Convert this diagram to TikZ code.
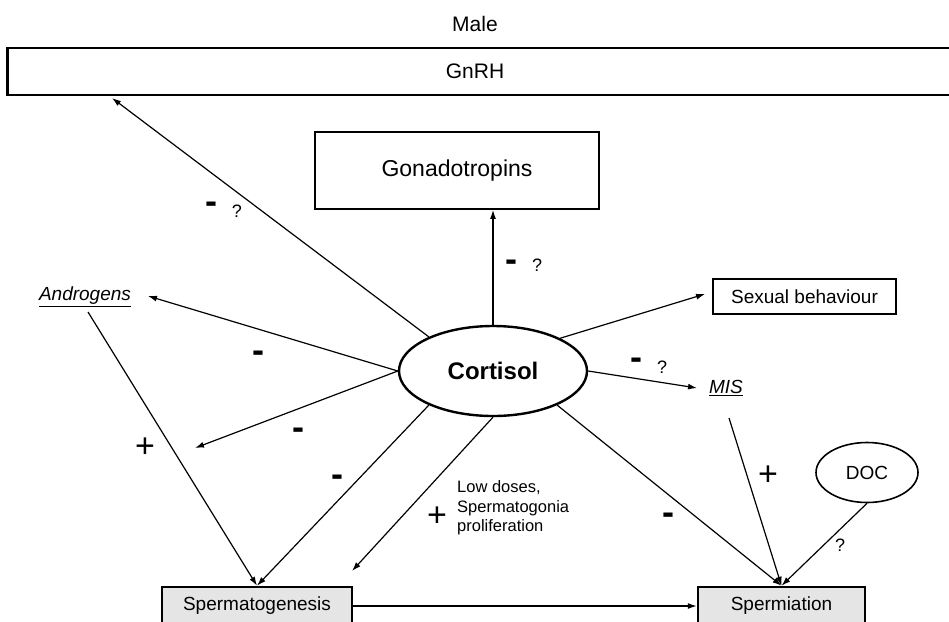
\documentclass[tikz,border=0pt]{standalone}
\usepackage{fontspec}
\setmainfont{Liberation Sans}
\usetikzlibrary{arrows.meta,shapes.geometric}
\begin{document}
\begin{tikzpicture}[x=1pt,y=-1pt,
  conn/.style={line width=1.2pt,-{Latex[length=9pt,width=6pt]}},
  sz/.style={font=\fontsize{#1}{#1}\selectfont},
  box/.style={draw,line width=2pt,inner sep=0pt},
  graybox/.style={draw,line width=2.5pt,fill=black!10,inner sep=0pt},
  minus/.style={font=\fontsize{36}{36}\selectfont\bfseries,inner sep=0pt},
  plus/.style={font=\fontsize{34}{34}\selectfont,inner sep=0pt},
  qm/.style={font=\fontsize{18}{18}\selectfont,inner sep=0pt}]
\useasboundingbox (0,0) rectangle (949,621);

% nodes
\node[sz=21] (male) at (475,24) {Male};
\node[box, line width=2.5pt, minimum width=1000, minimum height=47, anchor=west] (gnrhbox) at (6,71.5) {};
\node[sz=21] (gnrh) at (475,71.5) {GnRH};
\node[box, line width=1.8pt, minimum width=284, minimum height=77, sz=23] (gonad) at (457,170.5) {Gonadotropins};
\node[draw, ellipse, line width=2.4pt, minimum width=188, minimum height=90, inner sep=0pt,
      font=\fontsize{24}{24}\selectfont\bfseries] (cort) at (493,371) {Cortisol};
\node[sz=19, inner sep=1pt] (andro) at (85,297) {\itshape\underline{Androgens}};
\node[box, line width=1.8pt, minimum width=183, minimum height=35, sz=19] (sex) at (804.5,296.5) {Sexual behaviour};
\node[sz=19, inner sep=1pt] (mis) at (726,388) {\itshape\underline{MIS}};
\node[draw, ellipse, line width=1.6pt, minimum width=102, minimum height=60, inner sep=0pt, sz=19] (doc) at (867,472.5) {DOC};
\node[graybox, minimum width=190, minimum height=38, sz=19] (sg) at (257,606) {Spermatogenesis};
\node[graybox, minimum width=167, minimum height=38, sz=19] (sm) at (781.5,606) {Spermiation};

% free ends
\coordinate (gnrhtip) at (112,98);
\coordinate (androtip) at (148,296);
\coordinate (ptip) at (195,448);
\coordinate (ldtip) at (352,571);
\coordinate (sextip) at (705,294);
\coordinate (mistip) at (697,388);
\coordinate (misout) at (729,418);
\coordinate (andout) at (88,312);

% connectors
\draw[conn] (cort.152) -- (gnrhtip);
\draw[conn] (cort.north) -- (cort.north |- gonad.south);
\draw[conn] (cort.west) -- (androtip);
\draw[conn] (cort.west) -- (ptip);
\draw[conn] (cort.208) -- (sg.north);
\draw[conn] (andout) -- (sg.north);
\draw[conn] (cort.south) -- (ldtip);
\draw[conn] (cort.26.6) -- (sextip);
\draw[conn] (cort.east) -- (mistip);
\draw[conn] (cort.332) -- (sm.north);
\draw[conn] (misout) -- (sm.north);
\draw[conn] (doc.south) -- (sm.north);
\draw[conn] (sg.east) -- (sm.west);

% labels
\node[minus] (m1) at (211,208) {-};
\node[qm] (q1) at (237,211) {?};
\node[minus] (m2) at (511,266) {-};
\node[qm] (q2) at (537,265) {?};
\node[minus] (m3) at (258,357) {-};
\node[minus] (m4) at (298,434) {-};
\node[minus] (m5) at (337,481) {-};
\node[plus] (p1) at (145,448) {+};
\node[plus] (p2) at (437,517) {+};
\node[font=\fontsize{16.5}{19.5}\selectfont, align=left, anchor=west, inner sep=0pt] (ld) at (457,508) {Low doses,\\Spermatogonia\\proliferation};
\node[minus] (m6) at (636,364) {-};
\node[qm] (q3) at (662,367) {?};
\node[plus] (p3) at (768,476) {+};
\node[minus] (m7) at (668,519) {-};
\node[qm] (q4) at (840,545) {?};
\end{tikzpicture}
\end{document}
